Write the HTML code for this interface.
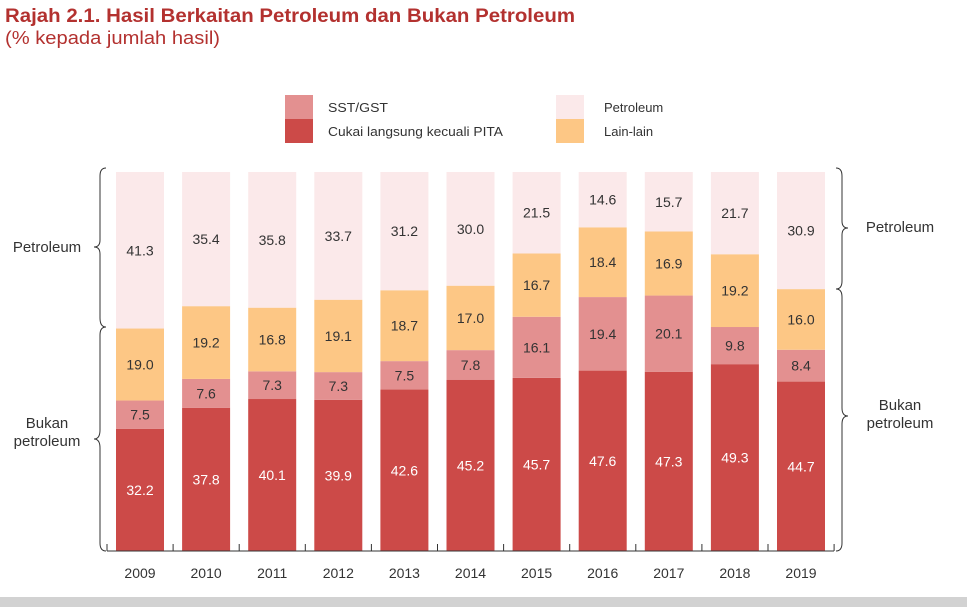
<!DOCTYPE html>
<html><head><meta charset="utf-8"><style>
body{margin:0;background:#fff;width:967px;height:607px;overflow:hidden;font-family:"Liberation Sans",sans-serif;}
svg text{font-family:"Liberation Sans",sans-serif;}
</style></head><body>
<svg id="chart" width="967" height="607" xmlns="http://www.w3.org/2000/svg">
<text x="5" y="22" font-size="19" font-weight="bold" fill="#b3312f" textLength="570" lengthAdjust="spacingAndGlyphs">Rajah 2.1. Hasil Berkaitan Petroleum dan Bukan Petroleum</text>
<text x="5" y="44" font-size="18" fill="#b3312f" textLength="215" lengthAdjust="spacingAndGlyphs">(% kepada jumlah hasil)</text>
<g font-size="13" fill="#333">
<rect x="285" y="95" width="28" height="24" fill="#e39090"/>
<text x="328" y="112" textLength="60" lengthAdjust="spacingAndGlyphs">SST/GST</text>
<rect x="285" y="119" width="28" height="24" fill="#cc4a48"/>
<text x="328" y="136" textLength="175" lengthAdjust="spacingAndGlyphs">Cukai langsung kecuali PITA</text>
<rect x="556" y="95" width="28" height="24" fill="#fbe9ea"/>
<text x="604" y="112">Petroleum</text>
<rect x="556" y="119" width="28" height="24" fill="#fdc785"/>
<text x="604" y="136">Lain-lain</text>
</g>
<g id="bars"></g>
<g fill="none" stroke="#333" stroke-width="1">
<path d="M106,168 Q100,168 100,176 L100,240 Q100,247 94,247 Q100,247 100,254 L100,318 Q100,327 106,327"/>
<path d="M106,327 Q100,327 100,335 L100,430 Q100,439 94,439 Q100,439 100,448 L100,543 Q100,551 106,551"/>
<path d="M836,168 Q842,168 842,176 L842,221 Q842,228 848,228 Q842,228 842,235 L842,281 Q842,289 836,289"/>
<path d="M836,289 Q842,289 842,297 L842,408 Q842,416 848,416 Q842,416 842,424 L842,543 Q842,551 836,551"/>
</g>
<g font-size="15" fill="#333">
<text x="47" y="252" text-anchor="middle">Petroleum</text>
<text x="47" y="428" text-anchor="middle">Bukan</text>
<text x="47" y="446" text-anchor="middle">petroleum</text>
<text x="900" y="232" text-anchor="middle">Petroleum</text>
<text x="900" y="410" text-anchor="middle">Bukan</text>
<text x="900" y="428" text-anchor="middle">petroleum</text>
</g>
<rect x="0" y="597" width="967" height="10" fill="#d2d2d2"/>
</svg>
<script>
const years=["2009","2010","2011","2012","2013","2014","2015","2016","2017","2018","2019"];
const cukai=[32.2,37.8,40.1,39.9,42.6,45.2,45.7,47.6,47.3,49.3,44.7];
const sst=[7.5,7.6,7.3,7.3,7.5,7.8,16.1,19.4,20.1,9.8,8.4];
const lain=[19.0,19.2,16.8,19.1,18.7,17.0,16.7,18.4,16.9,19.2,16.0];
const petroleum=[41.3,35.4,35.8,33.7,31.2,30.0,21.5,14.6,15.7,21.7,30.9];
const NS="http://www.w3.org/2000/svg";
const g=document.getElementById('bars');
const base=551, scale=3.79, x0=116, step=66.1, bw=48;
function y(v){return base-v*scale;}
function xb(i){return x0+i*step;}
function mk(t,a){const e=document.createElementNS(NS,t);for(const k in a)e.setAttribute(k,a[k]);g.appendChild(e);return e;}
const series=[{d:cukai,c:"#cc4a48",tc:"#fff",n:"cukai"},{d:sst,c:"#e39090",tc:"#333",n:"sst"},{d:lain,c:"#fdc785",tc:"#333",n:"lain"},{d:petroleum,c:"#fbe9ea",tc:"#333",n:"petroleum"}];
years.forEach((yr,i)=>{
  let cum=0;
  series.forEach(s=>{
    const v=s.d[i];
    const r=mk('rect',{x:xb(i),y:y(cum+v),width:bw,height:v*scale,fill:s.c});
    
    
    const t=mk('text',{x:xb(i)+bw/2,y:y(cum+v/2)+5,'text-anchor':'middle','font-size':'14',fill:s.tc});
    
    
    t.textContent=v.toFixed(1);
    cum+=v;
  });
  const yl=mk('text',{x:xb(i)+bw/2,y:578,'text-anchor':'middle','font-size':'14',fill:'#333'});
  
  
  yl.textContent=yr;
});
const ax=mk('line',{x1:107,y1:base,x2:834,y2:base,stroke:'#333','stroke-width':1});


for(let i=0;i<=years.length;i++){
  const tx=xb(i)-9;
  const tk=mk('line',{x1:tx,y1:base,x2:tx,y2:base-7,stroke:'#333','stroke-width':1});
  
  
}
</script>
</body></html>
